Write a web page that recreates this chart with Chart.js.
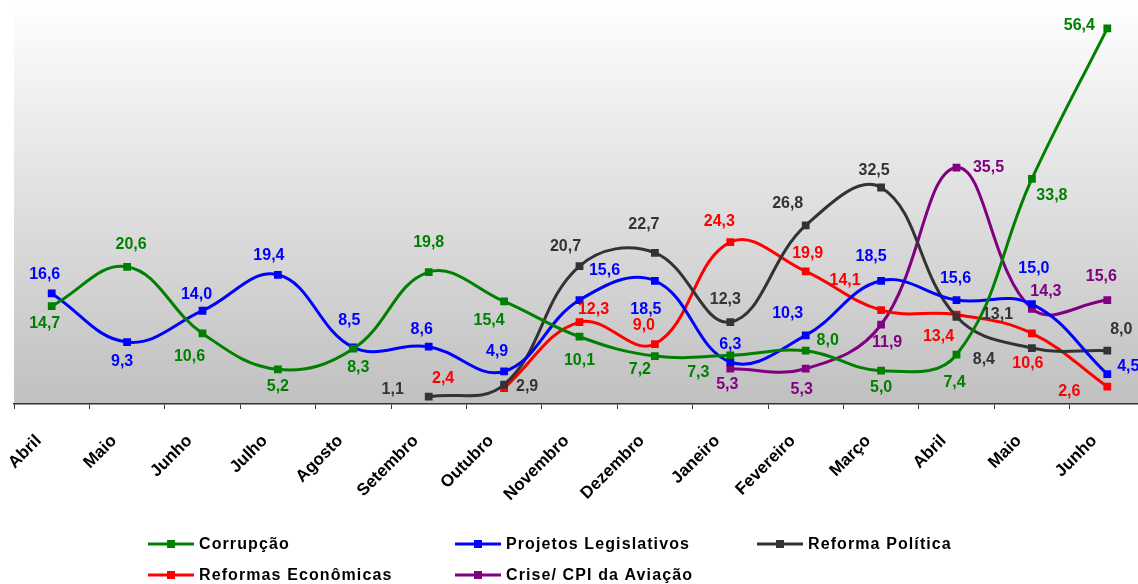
<!DOCTYPE html>
<html>
<head>
<meta charset="utf-8">
<script src="https://cdn.jsdelivr.net/npm/chart.js@4/dist/chart.umd.min.js"></script>
<style>
  html, body { margin: 0; padding: 0; background: #ffffff; overflow: hidden; }
  #wrap { width: 1146px; height: 584px; position: relative; }
  canvas { display: block; }
</style>
</head>
<body>
<div id="wrap"><canvas id="c" width="1146" height="584"></canvas></div>
<script>
// ---- Data ----
const months = ["Abril","Maio","Junho","Julho","Agosto","Setembro","Outubro","Novembro","Dezembro","Janeiro","Fevereiro","Março","Abril","Maio","Junho"];
const corrupcao = [14.7, 20.6, 10.6, 5.2, 8.3, 19.8, 15.4, 10.1, 7.2, 7.3, 8.0, 5.0, 7.4, 33.8, 56.4];
const projetosLegislativos = [16.6, 9.3, 14.0, 19.4, 8.5, 8.6, 4.9, 15.6, 18.5, 6.3, 10.3, 18.5, 15.6, 15.0, 4.5];
const reformaPolitica = [null, null, null, null, null, 1.1, 2.9, 20.7, 22.7, 12.3, 26.8, 32.5, 13.1, 8.4, 8.0];
const reformasEconomicas = [null, null, null, null, null, null, 2.4, 12.3, 9.0, 24.3, 19.9, 14.1, 13.4, 10.6, 2.6];
const criseCPI = [null, null, null, null, null, null, null, null, null, 5.3, 5.3, 11.9, 35.5, 14.3, 15.6];

// ---- Label offsets (style only) ----
const offCorrupcao = [[-7,18],[4,-22],[-13,23],[0,17],[5,19],[0,-30],[-15,19],[0,24],[-15,14],[-32,17],[22,-10],[0,17],[-2,28],[20,17],[-28,-3]];
const offProjetos = [[-7,-19],[-5,20],[-6,-16],[-9,-19],[-4,-27],[-7,-17],[-7,-20],[25,-29],[-9,29],[0,-17],[-18,-22],[-10,-24],[-1,-21],[2,-35],[21,-7]];
const offPolitica = [null,null,null,null,null,[-36,-7],[23,2],[-14,-20],[-11,-28],[-5,-22],[-18,-22],[-7,-17],[41,-2],[-48,12],[14,-21]];
const offEconomicas = [null,null,null,null,null,null,[-61,-9],[14,-12],[-11,-18],[-11,-21],[2,-18],[-36,-29],[-18,22],[-4,30],[-38,5]];
const offCrise = [null,null,null,null,null,null,null,null,null,[-3,16],[-4,21],[6,18],[32,0],[14,-17],[-6,-23]];

const FONT = '"Liberation Sans", Arial, sans-serif';

function ds(label, data, color, offsets) {
  return {
    label, data,
    borderColor: color, backgroundColor: color,
    borderWidth: 3, tension: 0.4,
    pointStyle: 'rect', pointRadius: 5.5, pointHoverRadius: 5.5,
    pointBackgroundColor: color, pointBorderColor: color, pointBorderWidth: 0,
    spanGaps: false, labelOffsets: offsets, fill: false
  };
}

const bgPlugin = {
  id: 'bg',
  beforeDraw(chart) {
    const {ctx, chartArea: a} = chart;
    const g = ctx.createLinearGradient(0, a.top, 0, a.bottom);
    g.addColorStop(0, '#ffffff');
    g.addColorStop(1, '#c0c0c0');
    ctx.save();
    ctx.fillStyle = g;
    ctx.fillRect(a.left, a.top, a.right - a.left, a.bottom - a.top);
    ctx.restore();
  }
};

const labelPlugin = {
  id: 'vlabels',
  afterDatasetsDraw(chart) {
    const ctx = chart.ctx;
    ctx.save();
    ctx.font = 'bold 16px ' + FONT;
    ctx.textAlign = 'center';
    ctx.textBaseline = 'middle';
    chart.data.datasets.forEach((d, di) => {
      const meta = chart.getDatasetMeta(di);
      meta.data.forEach((pt, i) => {
        const v = d.data[i];
        if (v === null || v === undefined) return;
        const off = (d.labelOffsets && d.labelOffsets[i]) || [0, -18];
        ctx.fillStyle = d.borderColor;
        ctx.fillText(v.toFixed(1).replace('.', ','), pt.x + off[0], pt.y + off[1]);
      });
    });
    ctx.restore();
  }
};

const legendPos = [[148,544],[455,544],[757,544],[148,575],[455,575]];
const legendPlugin = {
  id: 'mylegend',
  afterDraw(chart) {
    const ctx = chart.ctx;
    ctx.save();
    ctx.font = 'bold 16px ' + FONT;
    ctx.textBaseline = 'middle';
    ctx.textAlign = 'left';
    try { ctx.letterSpacing = '1.1px'; } catch (e) {}
    chart.data.datasets.forEach((d, i) => {
      const [x, y] = legendPos[i];
      ctx.strokeStyle = d.borderColor;
      ctx.lineWidth = 3;
      ctx.beginPath();
      ctx.moveTo(x, y);
      ctx.lineTo(x + 46, y);
      ctx.stroke();
      ctx.fillStyle = d.borderColor;
      ctx.fillRect(x + 19, y - 4, 8, 8);
      ctx.fillStyle = '#000000';
      ctx.fillText(d.label, x + 51, y + 1);
    });
    ctx.restore();
  }
};

new Chart(document.getElementById('c'), {
  type: 'line',
  data: {
    labels: months,
    datasets: [
      ds('Corrupção', corrupcao, '#008000', offCorrupcao),
      ds('Projetos Legislativos', projetosLegislativos, '#0000ff', offProjetos),
      ds('Reforma Política', reformaPolitica, '#333333', offPolitica),
      ds('Reformas Econômicas', reformasEconomicas, '#ff0000', offEconomicas),
      ds('Crise/ CPI da Aviação', criseCPI, '#800080', offCrise)
    ]
  },
  options: {
    responsive: false,
    devicePixelRatio: 1,
    animation: false,
    events: [],
    layout: { autoPadding: false, padding: { left: 14, right: 1, top: 0, bottom: 0 } },
    plugins: { legend: { display: false }, tooltip: { enabled: false } },
    scales: {
      x: {
        type: 'category',
        offset: true,
        grid: { display: true, drawOnChartArea: false, drawTicks: true, tickLength: 5, color: '#333333', offset: true },
        border: { display: true, color: '#333333', width: 1.5 },
        ticks: {
          minRotation: 45, maxRotation: 45, autoSkip: false,
          color: '#000000', padding: 22, labelOffset: -13,
          font: { family: FONT, size: 17, weight: 'bold' }
        },
        afterFit(scale) { scale.height = 180; }
      },
      y: { display: false, min: 0, max: 60.65 }
    }
  },
  plugins: [bgPlugin, labelPlugin, legendPlugin]
});
</script>
</body>
</html>
